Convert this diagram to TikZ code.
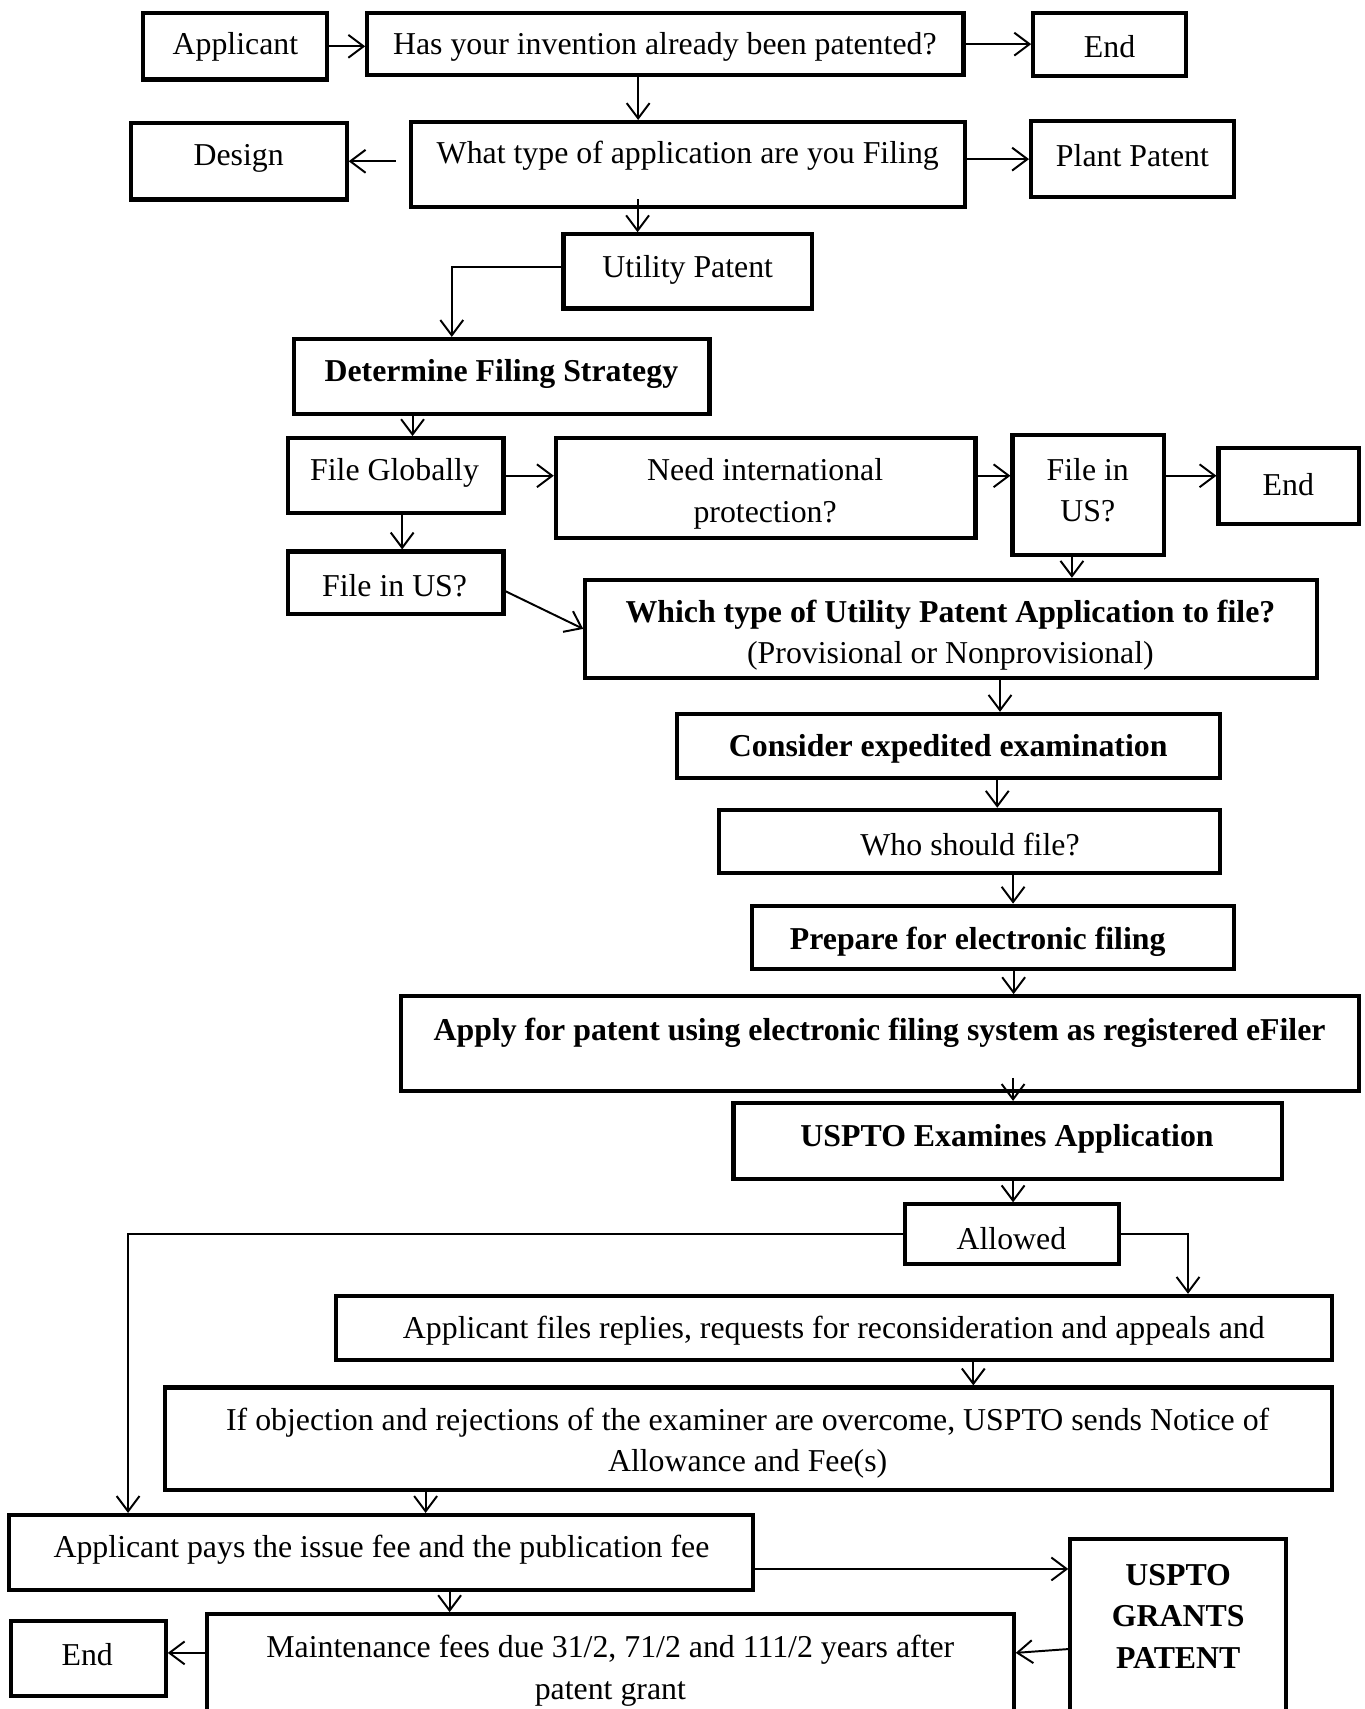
\documentclass[tikz,border=0pt]{standalone}
\usepackage{fontspec}
\setmainfont{Liberation Serif}
\usepackage{tikz}
\tikzset{x=.5pt,y=-.5pt}
\usetikzlibrary{arrows.meta, calc, fit}

\begin{document}
\begin{tikzpicture}[box/.style={draw,line width=1.9pt,inner sep=0pt},
  txt/.style={inner sep=0pt,align=center,font=\fontsize{14.6}{19}\selectfont},
  btxt/.style={txt,font=\fontsize{14.6}{19}\selectfont\bfseries},
  arr/.style={line width=.9pt,-{Straight Barb[length=7pt,width=10.5pt]}}]
    \clip (0,0) rectangle (1252,1568);
    % boxes
    \node[box,fit={(131,12) (300,73)}] (app) {};
    \node[box,fit={(337,12) (884,69)}] (has) {};
    \node[box,fit={(948,12) (1088,70)}] (end1) {};
    \node[box,fit={(120,113) (318,183)}] (design) {};
    \node[box,fit={(377,112) (885,190)}] (what) {};
    \node[box,fit={(946,111) (1132,181)}] (plant) {};
    \node[box,fit={(517,215) (745,283)}] (util) {};
    \node[box,fit={(270,311) (651,380)}] (strat) {};
    \node[box,fit={(264,402) (462,471)}] (glob) {};
    \node[box,fit={(510,402) (895,494)}] (intl) {};
    \node[box,fit={(929,399) (1068,509)}] (usr) {};
    \node[box,fit={(1118,411) (1247,481)}] (end2) {};
    \node[box,fit={(264,506) (462,563)}] (usl) {};
    \node[box,fit={(537,532) (1208,622)}] (which) {};
    \node[box,fit={(621,655) (1119,714)}] (consider) {};
    \node[box,fit={(660,743) (1119,801)}] (who) {};
    \node[box,fit={(690,831) (1132,889)}] (prep) {};
    \node[box,fit={(368,914) (1247,1001)}] (apply) {};
    \node[box,fit={(673,1012) (1176,1082)}] (exam) {};
    \node[box,fit={(830,1105) (1027,1160)}] (allowed) {};
    \node[box,fit={(308,1189) (1222,1248)}] (replies) {};
    \node[box,fit={(151,1273) (1222,1367)}] (notice) {};
    \node[box,fit={(8,1390) (691,1459)}] (pays) {};
    \node[box,fit={(982,1412) (1180,1580)}] (grants) {};
    \node[box,fit={(10,1487) (152,1556)}] (end3) {};
    \node[box,fit={(190,1481) (930,1580)}] (maint) {};
    % texts
    \node[txt] (app-t) at (216,43) {Applicant};
    \node[txt] (has-t) at (610,43) {Has your invention already been patented?};
    \node[txt] (end1-t) at (1018,43) {End};
    \node[txt] (design-t) at (219,145) {Design};
    \node[txt] (what-t) at (631,143) {What type of application are you Filing};
    \node[txt] (plant-t) at (1039,143) {Plant Patent};
    \node[txt] (util-t) at (631,248) {Utility Patent};
    \node[btxt] (strat-t) at (460,343) {Determine Filing Strategy};
    \node[txt] (glob-t) at (362,434) {File Globally};
    \node[txt] (intl-t) at (702,453) {Need international\\protection?};
    \node[txt] (usr-t) at (998,450) {File in\\US?};
    \node[txt] (end2-t) at (1182,445) {End};
    \node[txt] (usl-t) at (362,537) {File in US?};
    \node[btxt] (which-t) at (872,564) {Which type of Utility Patent Application to file?};
    \node[txt] (prov-t) at (872,602) {(Provisional or Nonprovisional)};
    \node[btxt] (consider-t) at (870,687) {Consider expedited examination};
    \node[txt] (who-t) at (890,775) {Who should file?};
    \node[btxt] (prep-t) at (897,864) {Prepare for electronic filing};
    \node[btxt] (apply-t) at (807,948) {Apply for patent using electronic filing system as registered eFiler};
    \node[btxt] (exam-t) at (924,1045) {USPTO Examines Application};
    \node[txt] (allowed-t) at (928,1136) {Allowed};
    \node[txt] (replies-t) at (765,1221) {Applicant files replies, requests for reconsideration and appeals and};
    \node[txt] (notice-t) at (686,1324) {If objection and rejections of the examiner are overcome, USPTO sends Notice of\\Allowance and Fee(s)};
    \node[txt] (pays-t) at (350,1422) {Applicant pays the issue fee and the publication fee};
    \node[btxt] (grants-t) at (1081,1483) {USPTO\\GRANTS\\PATENT};
    \node[txt] (end3-t) at (80,1518) {End};
    \node[txt] (maint-t) at (560,1533) {Maintenance fees due 31/2, 71/2 and 111/2 years after\\patent grant};
    % connectors
    \draw[arr] (app.east) -- (app.east -| has.west);
    \draw[arr] (has.east) -- (has.east -| end1.west);
    \draw[arr] ($(has.south)+(-25,0)$) coordinate (h1) -- (h1 |- what.north);
    \draw[arr] ($(design.east -| what.west)+(-12,0)$) -- (design.east);
    \draw[arr] (plant.west -| what.east) -- (plant.west);
    \draw[arr] ($(what.south)+(-46,-9)$) coordinate (h2) -- (h2 |- util.north);
    \draw[arr] ($(util.west)+(0,-4)$) -| ($(strat.north)+(-46,0)$);
    \draw[arr] ($(strat.south)+(-82,0)$) coordinate (h3) -- (h3 |- glob.north);
    \draw[arr] (glob.east) -- (glob.east -| intl.west);
    \draw[arr] (glob.east -| intl.east) -- (glob.east -| usr.west);
    \draw[arr] (glob.east -| usr.east) -- (glob.east -| end2.west);
    \draw[arr] ($(glob.south)+(6,0)$) coordinate (h4) -- (h4 |- usl.north);
    \draw[arr] ($(usl.east)+(0,8)$) -- (which.west);
    \draw[arr] ($(usr.south)+(-15,0)$) coordinate (h5) -- (h5 |- which.north);
    \draw[arr] ($(which.south)+(45,0)$) coordinate (h6) -- (h6 |- consider.north);
    \draw[arr] ($(consider.south)+(45,0)$) coordinate (h7) -- (h7 |- who.north);
    \draw[arr] ($(who.south)+(40,0)$) coordinate (h8) -- (h8 |- prep.north);
    \draw[arr] ($(prep.south)+(19,0)$) coordinate (h9) -- (h9 |- apply.north);
    \draw[arr] ($(apply.south)+(122,-14)$) coordinate (h10) -- (h10 |- exam.north);
    \draw[arr] ($(exam.south)+(5,0)$) coordinate (h11) -- (h11 |- allowed.north);
    \draw[arr] (allowed.east) -| ($(replies.north)+(325,0)$);
    \draw[arr] (allowed.west) -| ($(pays.north)+(-232,0)$);
    \draw[arr] ($(replies.south)+(128,0)$) coordinate (h12) -- (h12 |- notice.north);
    \draw[arr] ($(notice.south)+(-296,0)$) coordinate (h13) -- (h13 |- pays.north);
    \draw[arr] ($(pays.east)+(0,15)$) coordinate (h14) -- (h14 -| grants.west);
    \draw[arr] ($(pays.south)+(63,0)$) coordinate (h15) -- (h15 |- maint.north);
    \draw[arr] ($(grants.west)+(0,17)$) -- ($(maint.east)+(0,-14)$);
    \draw[arr] ($(maint.west)+(0,-14)$) coordinate (h16) -- (h16 -| end3.east);
\end{tikzpicture}
\end{document}
